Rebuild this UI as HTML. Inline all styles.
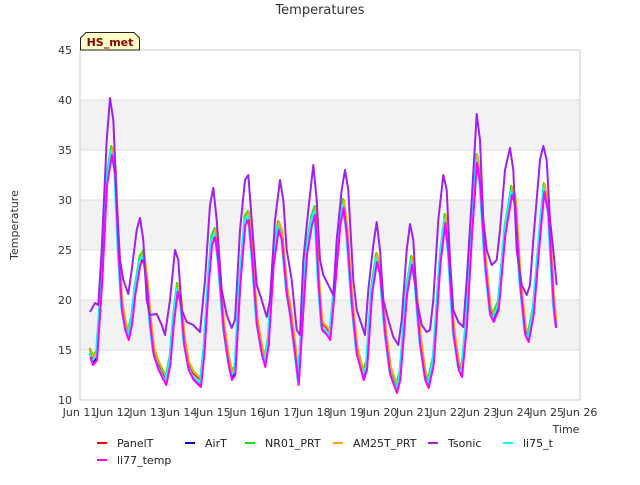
<!DOCTYPE html>
<html><head><meta charset="utf-8"><style>
body{margin:0;background:#fff;font-family:"Liberation Sans","DejaVu Sans",sans-serif}
svg text{font-family:"DejaVu Sans","Liberation Sans",sans-serif}
</style></head><body>
<svg id="c" width="640" height="480" viewBox="0 0 640 480" xmlns="http://www.w3.org/2000/svg">
<rect width="640" height="480" fill="#fff"/>
<text x="320" y="14" text-anchor="middle" font-size="13" fill="#333">Temperatures</text>
<g id="bands"></g><g id="grid"></g>
<rect x="80" y="50" width="500" height="350" fill="none" stroke="#ccc"/>
<g id="axes" font-size="11" fill="#333"></g>
<g id="series"></g>
<text transform="translate(18,225) rotate(-90)" text-anchor="middle" font-size="11" fill="#333">Temperature</text>
<text x="566" y="433" text-anchor="middle" font-size="11" fill="#333">Time</text>
<g>
<path d="M80.5,50 L80.5,38 L86,32.5 L134,32.5 L139.5,38 L139.5,50 Z" fill="#ffffc8" stroke="#222"/>
<text x="110" y="46" text-anchor="middle" font-size="11" font-weight="bold" fill="#8b0000">HS_met</text>
</g>
<g id="legend" font-size="11" fill="#222"></g>
</svg>
<script>
const NS="http://www.w3.org/2000/svg";
const yTicks=[10,15,20,25,30,35,40,45];
const xTickLabels=["Jun 11","Jun 12","Jun 13","Jun 14","Jun 15","Jun 16","Jun 17","Jun 18","Jun 19","Jun 20","Jun 21","Jun 22","Jun 23","Jun 24","Jun 25","Jun 26"];
const mainTimes=[0.3,0.38,0.5,0.65,0.8,0.95,1.05,1.15,1.25,1.35,1.45,1.55,1.65,1.8,1.9,2.0,2.1,2.2,2.35,2.5,2.58,2.7,2.8,2.92,3.02,3.12,3.25,3.4,3.55,3.62,3.72,3.85,3.95,4.05,4.15,4.3,4.45,4.55,4.65,4.8,4.95,5.05,5.15,5.3,5.45,5.55,5.65,5.8,5.95,6.05,6.2,6.3,6.45,6.55,6.7,6.8,6.95,7.05,7.15,7.25,7.4,7.5,7.65,7.8,7.9,8.0,8.15,8.3,8.5,8.6,8.75,8.9,9.0,9.15,9.3,9.5,9.6,9.8,9.95,10.05,10.2,10.35,10.45,10.6,10.8,10.95,11.05,11.2,11.35,11.45,11.6,11.75,11.9,12.0,12.15,12.3,12.4,12.55,12.75,12.95,13.05,13.2,13.35,13.45,13.6,13.8,13.92,14.05,14.2,14.27];
const mainValues=[14.8,14,14.5,22,32,35,33,25,19.5,17.5,16.5,18,21,24,24.5,22,18,15,13.5,12.5,12,14,18,21.3,20,16,13.5,12.5,12,11.8,15,22,26,26.8,24,17.5,14,12.5,13,22,28,28.5,25,18,15,13.8,16,24,27.5,26.5,21,19,15,12,20,25,28,29,22,17.5,17,16.5,22,28,29.7,27,20,15,12.5,13.5,21,24.3,23,17,13,11.2,12.5,21,24,22,16,12.5,11.7,14,24,28.2,25,17,13.5,12.8,18,27,34.2,32,24,19,18.3,19.5,27,31,30,22,17,16.3,19,27,31.3,29,20,17.7];
const tsonicTimes=[0.3,0.45,0.55,0.65,0.8,0.9,1.0,1.1,1.2,1.3,1.45,1.55,1.7,1.8,1.9,2.0,2.1,2.3,2.45,2.55,2.7,2.85,2.95,3.05,3.2,3.4,3.6,3.75,3.9,4.0,4.1,4.25,4.4,4.55,4.65,4.8,4.95,5.05,5.15,5.3,5.45,5.6,5.7,5.85,6.0,6.1,6.2,6.35,6.5,6.6,6.7,6.85,7.0,7.1,7.2,7.3,7.45,7.6,7.7,7.85,7.95,8.05,8.2,8.3,8.45,8.55,8.65,8.8,8.9,9.0,9.1,9.25,9.4,9.55,9.65,9.8,9.9,10.0,10.1,10.25,10.4,10.5,10.6,10.75,10.9,11.0,11.1,11.2,11.35,11.5,11.6,11.75,11.9,12.0,12.1,12.2,12.35,12.5,12.6,12.75,12.9,13.0,13.1,13.25,13.4,13.5,13.6,13.8,13.9,14.0,14.1,14.2,14.3];
const tsonicValues=[18.8,19.7,19.5,25,36,40.2,38,30,24,22,20.6,23,27,28.2,26,20,18.5,18.6,17.5,16.5,20,25,24,19,17.8,17.5,16.8,22,29.5,31.2,28,21,18.5,17.2,18,27,32,32.5,28,21.5,20,18.3,20,28,32,30,25,22,17,16.5,24,29,33.5,30,24,22.5,21.5,20.5,26,31,33,31,22,19,17.5,16.5,21,25.5,27.8,25,20,18,16.3,15.5,18,25,27.6,26,20,17.5,16.8,17,20,28,32.5,31,24,19,17.8,17.3,22,30,38.6,36,28,25,23.5,24,27,33,35.2,33,25,21.5,20.5,21.5,26,34,35.4,34,28,25,21.5];
const seriesNames=["PanelT","AirT","NR01_PRT","AM25T_PRT","li75_t","li77_temp"];
const seriesColors=["#ff0000","#0000cc","#00ee00","#ffa500","#00ffff","#ff00ff"];
const seriesTimeShift=[0.0,0.01,-0.01,0.02,-0.02,0.01];
const seriesValueShift=[0.2,-0.3,0.4,0.3,-0.1,-0.5];

const X=d=>80+d*500/15, Y=v=>400-(v-10)*10;
const s=document.getElementById('c');
function mk(tag,attrs,parent){const e=document.createElementNS(NS,tag);for(const k in attrs)e.setAttribute(k,attrs[k]);parent.appendChild(e);return e;}
const bands=document.getElementById('bands'),grid=document.getElementById('grid'),axes=document.getElementById('axes');
for(let i=0;i<yTicks.length-1;i++){
  if(i%2===1){const r=mk('rect',{x:80,y:Y(yTicks[i+1]),width:500,height:Y(yTicks[i])-Y(yTicks[i+1]),fill:'#f2f2f2'},bands);
  
  }
}
yTicks.forEach(v=>{
  const l=mk('line',{x1:80,x2:580,y1:Y(v),y2:Y(v),stroke:'#ddd'},grid);
  
  
  const t=mk('text',{x:72,y:Y(v)+4,'text-anchor':'end'},axes);t.textContent=v;
  
  
});
xTickLabels.forEach((lab,i)=>{
  const t=mk('text',{x:X(i),y:416,'text-anchor':'middle'},axes);t.textContent=lab;
  
  
});
const sg=document.getElementById('series');
function line(ts,vs,color,name){
  const d=ts.map((t,i)=>(i?'L':'M')+X(t).toFixed(1)+','+Y(vs[i]).toFixed(1)).join('');
  const p=mk('path',{d:d,fill:'none',stroke:color,'stroke-width':2,'stroke-linejoin':'round'},sg);
  
  
}
seriesNames.forEach((n,k)=>{
  line(mainTimes.map(t=>t+seriesTimeShift[k]),mainValues.map(v=>v+seriesValueShift[k]),seriesColors[k],'series-'+n.toLowerCase());
});
line(tsonicTimes,tsonicValues,'#a020f0','series-tsonic');
const lg=document.getElementById('legend');
const legend=[["PanelT","#ff0000",97,443],["AirT","#0000cc",185,443],["NR01_PRT","#00ee00",245,443],["AM25T_PRT","#ffa500",333,443],["Tsonic","#a020f0",428,443],["li75_t","#00ffff",503,443],["li77_temp","#ff00ff",97,460]];
legend.forEach(e=>{
  const g=mk('g',{},lg);
  
  
  mk('line',{x1:e[2],x2:e[2]+10,y1:e[3],y2:e[3],stroke:e[1],'stroke-width':2},g);
  const t=mk('text',{x:e[2]+20,y:e[3]+4},g);t.textContent=e[0];
});
</script>
</body></html>
